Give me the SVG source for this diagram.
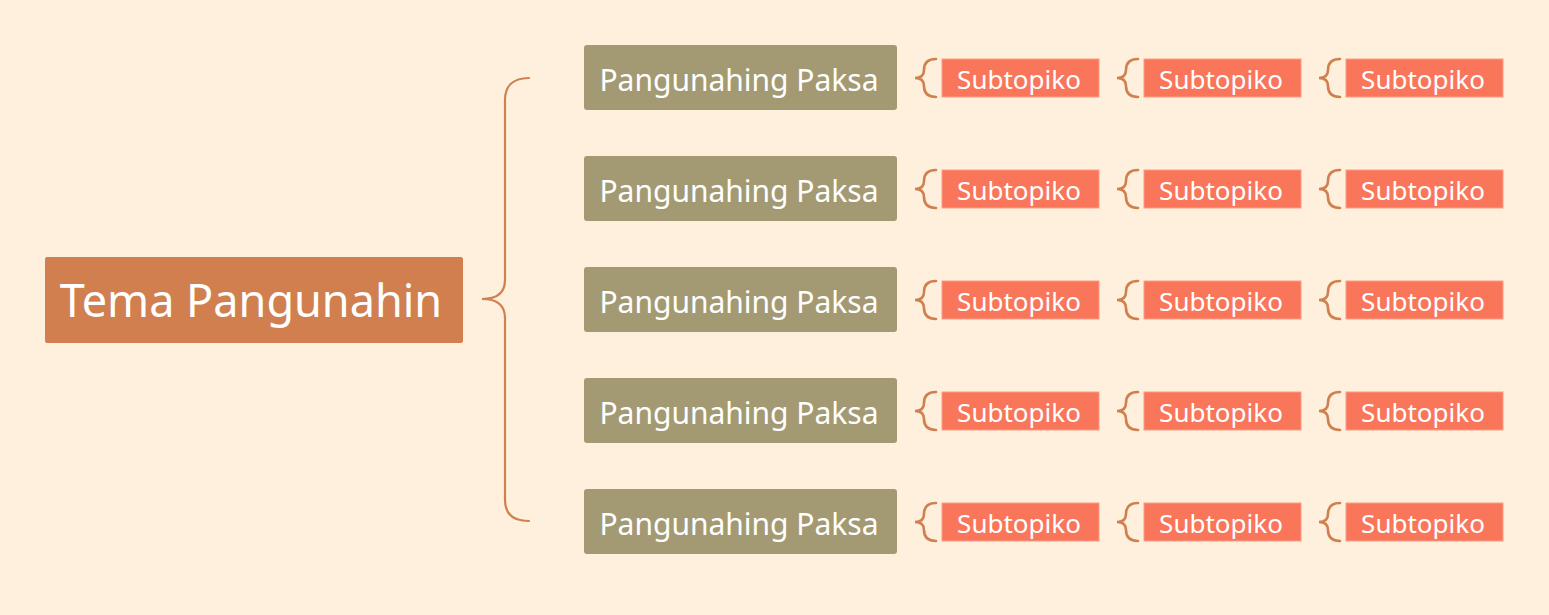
<svg xmlns="http://www.w3.org/2000/svg" xmlns:xlink="http://www.w3.org/1999/xlink" width="1549" height="615" viewBox="0 0 1549 615">
<style>
.bg{fill:#FEF0DC}
.root{fill:#D17F4F}
.main{fill:#A39A74}
.sub{fill:#FA765A;stroke:#FB9C84;stroke-width:1}
.conn{fill:none;stroke:#D07F4F;stroke-width:2.2;stroke-linecap:round}
.sbr{stroke-width:2.6}
text{font-family:"Noto Sans","Open Sans","DejaVu Sans",sans-serif;fill:#FFFFFF;text-anchor:middle}
.t-root{font-size:45px}
.t-main{font-size:30px}
.t-sub{font-size:26px}
</style>
<defs>
<path id="br" d="M21,1 C12,1 9,6 9,12 C9,17 6,20 0,20 C6,20 9,23 9,28 C9,34 12,39 21,39"/>
</defs>
<rect class="bg" x="0" y="0" width="1549" height="615"/>
<g id="connectors">
<path class="conn" d="M529,78 C513,78 505,86 505,100 L505,280 C505,292 498,299 482,299 C498,299 505,306 505,318 L505,500 C505,514 513,521 529,521"/>
<g id="sub-brackets">
<use class="conn sbr" xlink:href="#br" x="915" y="58"/>
<use class="conn sbr" xlink:href="#br" x="1117" y="58"/>
<use class="conn sbr" xlink:href="#br" x="1319" y="58"/>
<use class="conn sbr" xlink:href="#br" x="915" y="169"/>
<use class="conn sbr" xlink:href="#br" x="1117" y="169"/>
<use class="conn sbr" xlink:href="#br" x="1319" y="169"/>
<use class="conn sbr" xlink:href="#br" x="915" y="280"/>
<use class="conn sbr" xlink:href="#br" x="1117" y="280"/>
<use class="conn sbr" xlink:href="#br" x="1319" y="280"/>
<use class="conn sbr" xlink:href="#br" x="915" y="391"/>
<use class="conn sbr" xlink:href="#br" x="1117" y="391"/>
<use class="conn sbr" xlink:href="#br" x="1319" y="391"/>
<use class="conn sbr" xlink:href="#br" x="915" y="502"/>
<use class="conn sbr" xlink:href="#br" x="1117" y="502"/>
<use class="conn sbr" xlink:href="#br" x="1319" y="502"/>
</g>
</g>
<g id="root">
<rect class="root" x="45" y="257" width="418" height="86" rx="2"/>
<text class="t-root" x="251" y="317">Tema Pangunahin</text>
</g>
<g id="main1"><rect class="main" x="584" y="45" width="313" height="65" rx="3"/><text class="t-main" x="739" y="91">Pangunahing Paksa</text></g>
<g id="main2"><rect class="main" x="584" y="156" width="313" height="65" rx="3"/><text class="t-main" x="739" y="202">Pangunahing Paksa</text></g>
<g id="main3"><rect class="main" x="584" y="267" width="313" height="65" rx="3"/><text class="t-main" x="739" y="313">Pangunahing Paksa</text></g>
<g id="main4"><rect class="main" x="584" y="378" width="313" height="65" rx="3"/><text class="t-main" x="739" y="424">Pangunahing Paksa</text></g>
<g id="main5"><rect class="main" x="584" y="489" width="313" height="65" rx="3"/><text class="t-main" x="739" y="535">Pangunahing Paksa</text></g>
<g id="sub1-1"><rect class="sub" x="942" y="59" width="157" height="38"/><text class="t-sub" x="1019" y="88.5">Subtopiko</text></g>
<g id="sub1-2"><rect class="sub" x="1144" y="59" width="157" height="38"/><text class="t-sub" x="1221" y="88.5">Subtopiko</text></g>
<g id="sub1-3"><rect class="sub" x="1346" y="59" width="157" height="38"/><text class="t-sub" x="1423" y="88.5">Subtopiko</text></g>
<g id="sub2-1"><rect class="sub" x="942" y="170" width="157" height="38"/><text class="t-sub" x="1019" y="199.5">Subtopiko</text></g>
<g id="sub2-2"><rect class="sub" x="1144" y="170" width="157" height="38"/><text class="t-sub" x="1221" y="199.5">Subtopiko</text></g>
<g id="sub2-3"><rect class="sub" x="1346" y="170" width="157" height="38"/><text class="t-sub" x="1423" y="199.5">Subtopiko</text></g>
<g id="sub3-1"><rect class="sub" x="942" y="281" width="157" height="38"/><text class="t-sub" x="1019" y="310.5">Subtopiko</text></g>
<g id="sub3-2"><rect class="sub" x="1144" y="281" width="157" height="38"/><text class="t-sub" x="1221" y="310.5">Subtopiko</text></g>
<g id="sub3-3"><rect class="sub" x="1346" y="281" width="157" height="38"/><text class="t-sub" x="1423" y="310.5">Subtopiko</text></g>
<g id="sub4-1"><rect class="sub" x="942" y="392" width="157" height="38"/><text class="t-sub" x="1019" y="421.5">Subtopiko</text></g>
<g id="sub4-2"><rect class="sub" x="1144" y="392" width="157" height="38"/><text class="t-sub" x="1221" y="421.5">Subtopiko</text></g>
<g id="sub4-3"><rect class="sub" x="1346" y="392" width="157" height="38"/><text class="t-sub" x="1423" y="421.5">Subtopiko</text></g>
<g id="sub5-1"><rect class="sub" x="942" y="503" width="157" height="38"/><text class="t-sub" x="1019" y="532.5">Subtopiko</text></g>
<g id="sub5-2"><rect class="sub" x="1144" y="503" width="157" height="38"/><text class="t-sub" x="1221" y="532.5">Subtopiko</text></g>
<g id="sub5-3"><rect class="sub" x="1346" y="503" width="157" height="38"/><text class="t-sub" x="1423" y="532.5">Subtopiko</text></g>
</svg>
